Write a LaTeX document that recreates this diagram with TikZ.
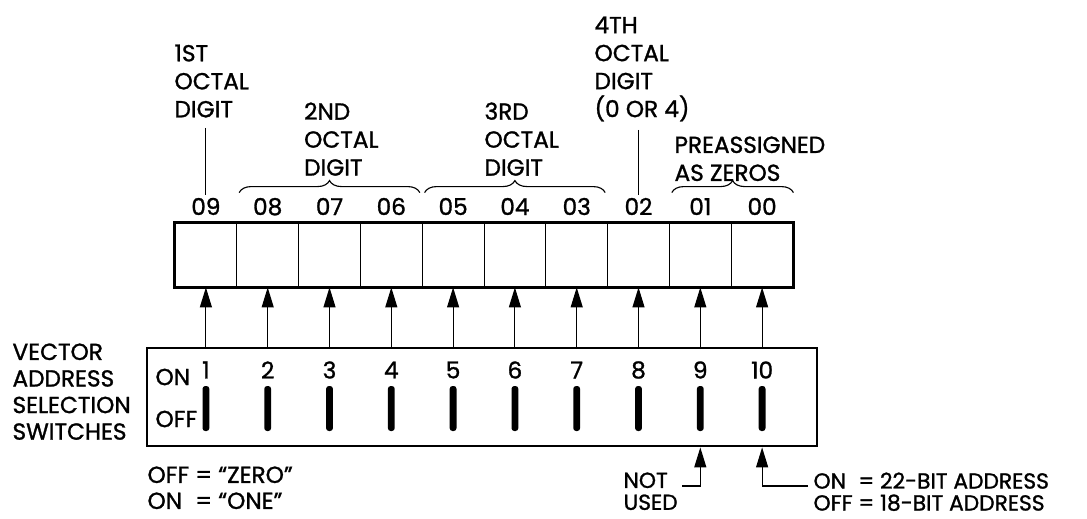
\documentclass[tikz,border=0pt]{standalone}
\usepackage{fontspec}
\setmainfont{Poppins}[FakeBold=1.2]
\usetikzlibrary{positioning,calc,arrows.meta,decorations.pathreplacing}

\begin{document}
\begin{tikzpicture}[font=\fontsize{16.5}{19.9}\selectfont, line width=0.8pt]
    \tikzstyle{cell}=[draw, minimum width=1.545cm, minimum height=1.6cm, inner sep=0pt, line width=0.6pt]
    \tikzstyle{bitno}=[inner sep=0pt]
    \tikzstyle{annot}=[align=left, inner sep=0pt]
    \tikzstyle{lever}=[fill=black, rounded corners=0.07cm, minimum width=0.17cm, minimum height=1.125cm, inner sep=0pt]
    \tikzstyle{arr}=[-{Triangle[length=0.5cm,width=0.3cm]}]
    \tikzstyle{grp}=[decorate, decoration={brace, amplitude=0.3cm}, line width=0.8pt]

    \useasboundingbox (0,0) rectangle (27.175,12.95);

    % Draw the register cells with their bit numbers
    \foreach \i/\bit in {1/09,2/08,3/07,4/06,5/05,6/04,7/03,8/02,9/01,10/00}
    {
      \node[cell] (R-\i) at ({4.375+1.545*(\i-0.5)},6.575) {};
      \node[bitno, anchor=base] (D-\i) at ({4.375+1.545*(\i-0.5)},7.575) {\bit};
    }
    \draw[line width=2pt] (R-1.north west) rectangle (R-10.south east);

    % Draw the switch box
    \node[draw, line width=2pt, minimum width=16.75cm, minimum height=2.45cm, inner sep=0pt] (swbox) at (12.05,3.025) {};
    \node[anchor=west, inner sep=0pt] (on) at (3.875,3.525) {ON};
    \node[anchor=west, inner sep=0pt] (off) at (3.875,2.475) {OFF};

    % Draw the switches and connect them to the register
    \foreach \i [evaluate=\i as \x using 4.375+1.545*(\i-0.5)] in {1,...,10}
    {
      \node[bitno] (N-\i) at (\x,3.7) {\i};
      \node[lever] (S-\i) at (\x,2.7375) {};
      \draw[arr] (R-\i |- swbox.north) -- (R-\i.south);
    }

    % Group the bits into octal digits
    \draw[grp] ([xshift=2pt,yshift=0.75cm]R-2.north west) -- ([xshift=-2pt,yshift=0.75cm]R-4.north east);
    \draw[grp] ([xshift=2pt,yshift=0.75cm]R-5.north west) -- ([xshift=-2pt,yshift=0.75cm]R-7.north east);
    \draw[grp] ([xshift=2pt,yshift=0.75cm]R-9.north west) -- ([yshift=0.75cm]R-10.north east);

    % Annotate the digits
    \node[annot, anchor=north west] (oct1) at (4.35,11.85) {1ST\\OCTAL\\DIGIT};
    \node[annot, anchor=north west] (oct2) at (7.59,10.4) {2ND\\OCTAL\\DIGIT};
    \node[annot, anchor=north west] (oct3) at (12.1,10.4) {3RD\\OCTAL\\DIGIT};
    \node[annot, anchor=north west] (oct4) at (14.85,12.55) {4TH\\OCTAL\\DIGIT\\(0 OR 4)};
    \node[annot, anchor=north west] (zeros) at (16.85,9.55) {PREASSIGNED\\AS ZEROS};
    \draw[shorten >=2pt] ($(oct1.south -| D-1.north)+(0,-0.25)$) -- (D-1.north);
    \draw[shorten >=2pt] ($(oct4.south -| D-8.north)+(0,-0.2)$) -- (D-8.north);

    % Annotate the switches
    \node[annot, anchor=north west, font=\fontsize{16.5}{18.9}\selectfont] (vas) at (0.3,4.375) {VECTOR\\ADDRESS\\SELECTION\\SWITCHES};
    \node[annot, anchor=north west, font=\fontsize{16.5}{18.5}\selectfont] (code) at (3.675,1.3)
      {OFF = ``ZERO''\\\rlap{ON}\phantom{OFF} = ``ONE''};
    \node[annot, anchor=north west, font=\fontsize{15.5}{15.6}\selectfont] (nu) at (15.575,1.15) {NOT\\USED};
    \node[annot, anchor=north west, font=\fontsize{15.5}{15.6}\selectfont] (bits) at (20.325,1.15)
      {\rlap{ON}\phantom{OFF} = 22-BIT ADDRESS\\OFF = 18-BIT ADDRESS};
    \coordinate (nu-end) at (17.05,0.8);
    \coordinate (bits-end) at (20.2,0.8);
    \draw[arr] (nu-end) -| (S-9 |- swbox.south);
    \draw[arr] (bits-end) -| (S-10 |- swbox.south);
\end{tikzpicture}
\end{document}
